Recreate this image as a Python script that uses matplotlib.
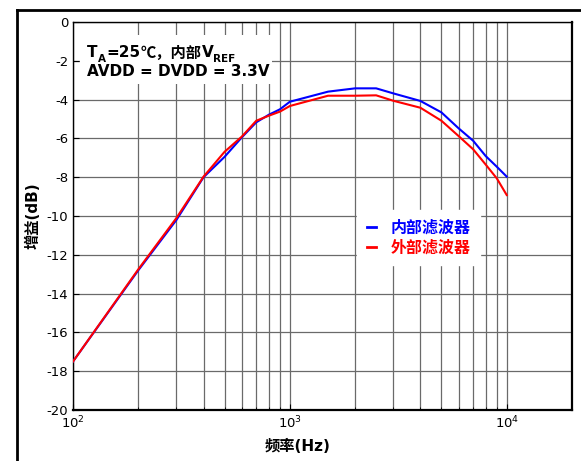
import matplotlib
matplotlib.use("Agg")
import matplotlib.pyplot as plt
from matplotlib.lines import Line2D
from matplotlib.patches import Rectangle

plt.rcParams['font.family'] = ['DejaVu Sans', 'Noto Sans CJK SC']

freq = [100, 200, 300, 400, 500, 600, 700, 800, 900, 1000, 1500, 2000, 2500,
        3000, 4000, 5000, 6000, 7000, 8000, 9000, 10000]
gain_internal = [-17.5, -12.8, -10.2, -8.0, -6.95, -5.95, -5.17, -4.78, -4.5, -4.11,
                 -3.59, -3.42, -3.42, -3.68, -4.07, -4.66, -5.48, -6.12, -6.91, -7.46, -7.97]
gain_external = [-17.5, -12.75, -10.1, -7.97, -6.69, -5.91, -5.09, -4.83, -4.62, -4.33,
                 -3.80, -3.80, -3.78, -4.06, -4.42, -5.09, -5.88, -6.56, -7.35, -8.06, -8.92]
series_names = ['内部滤波器', '外部滤波器']
series_colors = ['#0000ff', '#ff0000']
xlabel = '频率(Hz)'
ylabel = '增益(dB)'
yticks = list(range(-20, 1, 2))

fig = plt.figure(figsize=(5.81, 4.61), dpi=100)
ax = fig.add_axes([73/581, 1-410/461, 499/581, 388/461])

# figure border (cropped on right/bottom)
fig.add_artist(Line2D([17/581, 17/581], [0, 1-10/461], transform=fig.transFigure,
                      color='black', lw=2))
fig.add_artist(Line2D([17/581, 1], [1-10/461, 1-10/461], transform=fig.transFigure,
                      color='black', lw=2))

ax.plot(freq, gain_internal, color=series_colors[0], lw=1.5, zorder=3)
ax.plot(freq, gain_external, color=series_colors[1], lw=1.5, zorder=3)

ax.set_xscale('log')
ax.set_xlim(100, 20000)
ax.set_ylim(-20, 0)
ax.set_yticks(yticks)
ax.set_yticklabels([str(v) for v in yticks], fontsize=9.5)
ax.tick_params(axis='both', which='both', direction='in', labelsize=9.5)
ax.tick_params(axis='both', which='major', length=4)
ax.tick_params(axis='x', which='minor', length=2)
ax.grid(True, which='major', color='#6a6a6a', lw=0.9)
ax.grid(True, which='minor', axis='x', color='#6a6a6a', lw=0.9)
for s in ['right', 'bottom']:
    ax.spines[s].set_linewidth(1.6)
ax.spines['left'].set_linewidth(1.0)
ax.spines['top'].set_linewidth(1.0)

ax.set_xlabel(xlabel, fontsize=11, fontweight='bold',
              family=['DejaVu Sans', 'Noto Sans CJK SC'])
ax.xaxis.set_label_coords(0.451, -0.075)
ax.set_ylabel(ylabel, fontsize=11, fontweight='bold',
              family=['DejaVu Sans', 'Noto Sans CJK SC'])
ax.yaxis.set_label_coords(-0.064, 0.5)

# annotation box (white background)
ax.add_patch(Rectangle(((80-73)/499, 1-(84-22)/388), (272-80)/499, (84-35)/388,
                       transform=ax.transAxes, facecolor='white', edgecolor='none', zorder=2))
fs = 11
kw = dict(fontsize=fs, fontweight='bold', family=['DejaVu Sans', 'Noto Sans CJK SC'],
          zorder=4)
kwc = dict(fontsize=fs, fontweight='bold', family=['Noto Sans CJK SC', 'DejaVu Sans'],
           zorder=4)
sub = dict(fontsize=7.5, fontweight='bold', zorder=4)
t1 = ax.text((87-73)/499, 1-(57-22)/388, 'T', transform=ax.transAxes, va='baseline', **kw)
t2 = ax.annotate('A', xy=(1, 0), xycoords=t1, xytext=(0.3, -3), textcoords='offset points',
                 va='bottom', ha='left', **sub)
t3 = ax.annotate('=25', xy=(1, 0), xycoords=t2, xytext=(0.5, 3),
                 textcoords='offset points', va='bottom', ha='left', **kw)
t3b = ax.annotate('℃，内部', xy=(1, 0), xycoords=t3, xytext=(0, -0.5),
                  textcoords='offset points', va='bottom', ha='left', **kwc)
t3c = ax.annotate('V', xy=(1, 0), xycoords=t3b, xytext=(0, 0.5),
                  textcoords='offset points', va='bottom', ha='left', **kw)
t4 = ax.annotate('REF', xy=(1, 0), xycoords=t3c, xytext=(0, -3),
                 textcoords='offset points', va='bottom', ha='left', **sub)
ax.text((87-73)/499, 1-(76-22)/388, 'AVDD = DVDD = 3.3V', transform=ax.transAxes,
        va='baseline', **kw)

# legend
handles = [Line2D([], [], color=c, lw=2) for c in series_colors]
leg = ax.legend(handles, series_names, loc='upper left',
                bbox_to_anchor=((357-73)/499, 1-(210-22)/388),
                frameon=True, fancybox=False, framealpha=1, edgecolor='white',
                handlelength=0.6, handletextpad=0.9, borderpad=0.6, borderaxespad=0,
                labelspacing=0.25,
                prop={'family': ['Noto Sans CJK SC'], 'weight': 'bold', 'size': 11.5})
for txt, c in zip(leg.get_texts(), series_colors):
    txt.set_color(c)
leg.set_zorder(5)

fig.savefig('out.png', dpi=100)
